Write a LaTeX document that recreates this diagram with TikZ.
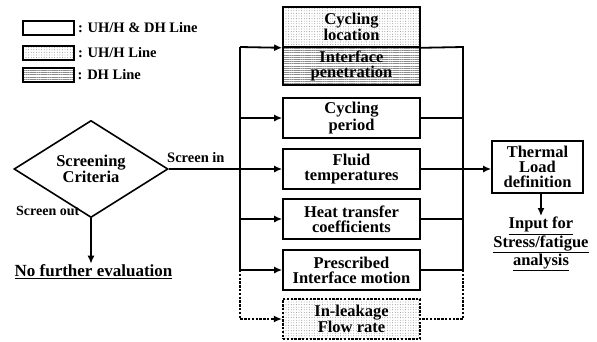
\documentclass[tikz,border=0pt]{standalone}
\usepackage{fontspec}
\setmainfont{Liberation Serif}
\usetikzlibrary{shapes.geometric,patterns.meta,arrows.meta}
\newcommand{\dgbig}{\fontsize{16.5}{15}\selectfont\bfseries}
\newcommand{\dgmid}{\fontsize{14.5}{14}\selectfont\bfseries}
\begin{document}
\begin{tikzpicture}[x=1pt,y=-1pt,
  box/.style={draw,line width=1.6pt,minimum width=137pt,minimum height=40pt,inner sep=1pt,align=center,font=\dgbig},
  dotfill/.style={pattern={Dots[distance=2.6pt,radius=0.45pt]},pattern color=black!50},
  linefill/.style={pattern={Lines[distance=2.2pt,line width=0.8pt]},pattern color=black!45},
  dotborder/.style={dash pattern=on 2.4pt off 1.4pt,line width=2.2pt},
  conn/.style={line width=1.8pt},
  arr/.style={line width=1.8pt,-{Latex[length=8pt,width=7pt]}},
  dotconn/.style={line width=2.4pt,dash pattern=on 2.4pt off 1.4pt},
  legbox/.style={draw,line width=1.6pt,minimum width=51pt,minimum height=14pt,inner sep=0pt},
  lbl/.style={font=\dgmid,inner sep=0pt}]
\useasboundingbox (0,0) rectangle (597,341);

% legend
\node[legbox] (lg1) at (48.5,28) {};
\node[legbox,dotfill] (lg2) at (48.5,53) {};
\node[legbox,linefill] (lg3) at (48.5,75) {};
\node[lbl,anchor=west] (lt1) at ([xshift=3pt]lg1.east) {: UH/H \& DH Line};
\node[lbl,anchor=west] (lt2) at ([xshift=3pt]lg2.east) {: UH/H Line};
\node[lbl,anchor=west] (lt3) at ([xshift=3pt]lg3.east) {: DH Line};

% central column
\node[box,dotfill,minimum height=40pt] (cl) at (351.5,27) {Cycling\\location};
\node[box,linefill,minimum height=38pt] (ip) at (351.5,66) {Interface\\penetration};
\node[box] (cp) at (351.5,118) {Cycling\\period};
\node[box] (ft) at (351.5,169) {Fluid\\temperatures};
\node[box] (ht) at (351.5,219) {Heat transfer\\coefficients};
\node[box] (pm) at (351.5,270) {Prescribed\\Interface motion};
\node[box,dotfill,dotborder] (il) at (351.5,319) {In-leakage\\Flow rate};

% diamond
\node[draw,diamond,line width=1.6pt,minimum width=154pt,minimum height=66pt,inner sep=0pt,align=center,font=\dgbig] (sc) at (91,169) {Screening\\Criteria};

% thermal load
\node[draw,line width=1.6pt,minimum width=91pt,minimum height=52pt,inner sep=1pt,align=center,font=\dgbig] (tl) at (537.5,167) {Thermal\\Load\\definition};
\node[align=center,font=\dgbig,inner sep=1pt] (inp) at (541,244) {\underline{Input for}\\\underline{Stress/fatigue}\\\underline{analysis}};

\node[font=\fontsize{17}{15}\selectfont\bfseries,inner sep=1pt] (nfe) at (93.5,272) {\underline{No further evaluation}};

% labels
\node[lbl,anchor=base west] (sin) at (167,162) {Screen in};
\node[lbl,anchor=base west,font=\fontsize{14}{14}\selectfont\bfseries] (sout) at (16,215) {Screen out};

% bus coordinates
\coordinate (bt) at (240,47);
\coordinate (rt) at (463,47);

% connectors left
\draw[conn] (sc.east) -- (bt |- sc.east);
\draw[conn] (bt) -- (bt |- pm.west);
\draw[arr] (bt) -- (cl.south west);
\draw[arr] (bt |- cp.west) -- (cp.west);
\draw[arr] (bt |- ft.west) -- (ft.west);
\draw[arr] (bt |- ht.west) -- (ht.west);
\draw[arr] (bt |- pm.west) -- (pm.west);
\draw[dotconn] (bt |- pm.west) -- (bt |- il.west) -- ([xshift=-8pt]il.west);
\draw[arr] ([xshift=-8.5pt]il.west) -- (il.west);

% connectors right
\draw[conn] (cl.south east) -- (rt) -- (rt |- pm.east) -- (pm.east);
\draw[conn] (cp.east) -- (cp.east -| rt);
\draw[conn] (ht.east) -- (ht.east -| rt);
\draw[dotconn] (rt |- pm.east) -- (rt |- il.east) -- (il.east);
\draw[arr] (ft.east) -- (ft.east -| tl.west);

% downward arrows
\draw[arr] (inp.north |- tl.south) -- (inp.north);
\draw[arr] (sc.south) -- (sc.south |- nfe.north);
\end{tikzpicture}
\end{document}
